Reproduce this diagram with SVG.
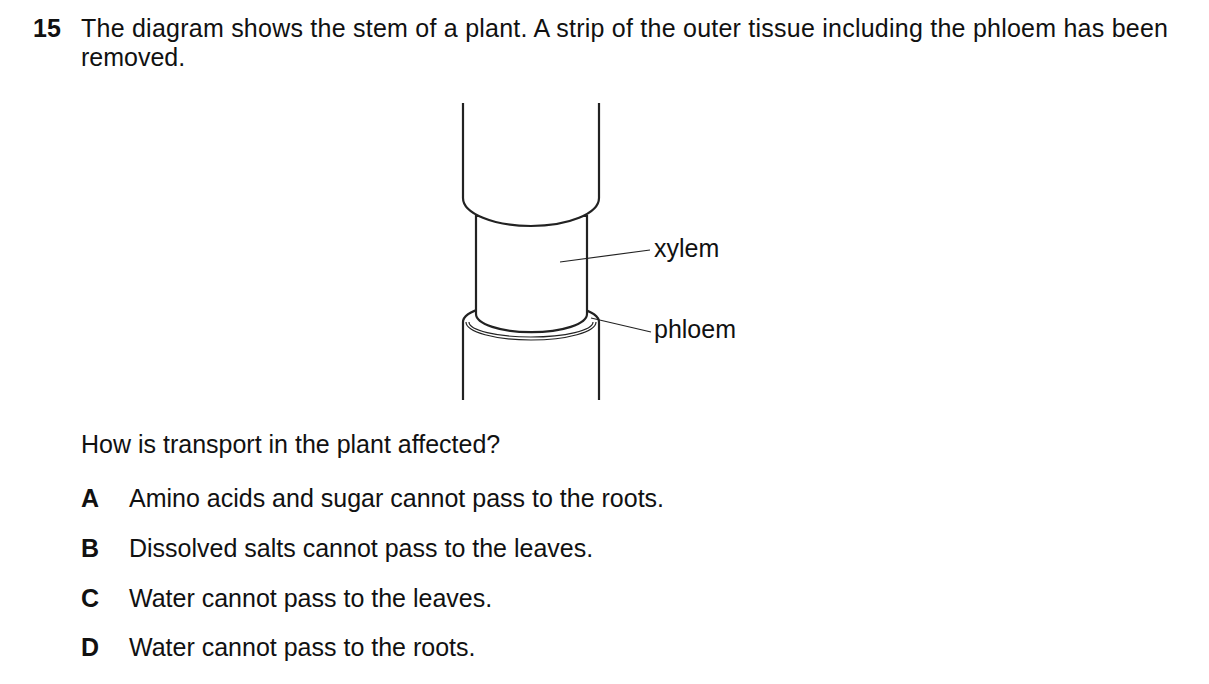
<svg xmlns="http://www.w3.org/2000/svg" width="1209" height="684" viewBox="0 0 1209 684">
<style>
text{font-family:"Liberation Sans",Arial,sans-serif;font-size:25px;fill:#111}
.b{font-weight:bold}
.s{fill:#fff;stroke:#222;stroke-width:2.2}
.t{fill:none;stroke:#222;stroke-width:1.2}
</style>
<rect width="1209" height="684" fill="#fff"/>
<text x="33" y="37" class="b">15</text>
<text x="81" y="37" textLength="1087" lengthAdjust="spacing">The diagram shows the stem of a plant. A strip of the outer tissue including the phloem has been</text>
<text x="81" y="66">removed.</text>
<g id="stem">
<path class="s" d="M463,400 V322 A68,20 0 0 1 599,322 V400"/>
<path class="t" d="M466,322 A65,18 0 0 0 596,322"/>
<path class="t" d="M469,322 A62,15 0 0 0 593,322"/>
<path class="s" d="M476,216 V314 A55,18 0 0 0 587,314 V216 Z"/>
<path class="s" d="M463,103 V198 A68,28 0 0 0 599,198 V103"/>
</g>
<g id="connectors">
<line class="t" x1="560" y1="262" x2="650" y2="250"/>
<line class="t" x1="591" y1="318" x2="651" y2="332"/>
</g>
<g id="labels">
<text x="654" y="257">xylem</text>
<text x="654" y="338">phloem</text>
</g>
<text x="81" y="453">How is transport in the plant affected?</text>
<text x="81" y="507" class="b">A</text><text x="129" y="507">Amino acids and sugar cannot pass to the roots.</text>
<text x="81" y="557" class="b">B</text><text x="129" y="557">Dissolved salts cannot pass to the leaves.</text>
<text x="81" y="607" class="b">C</text><text x="129" y="607">Water cannot pass to the leaves.</text>
<text x="81" y="656" class="b">D</text><text x="129" y="656">Water cannot pass to the roots.</text>
</svg>
